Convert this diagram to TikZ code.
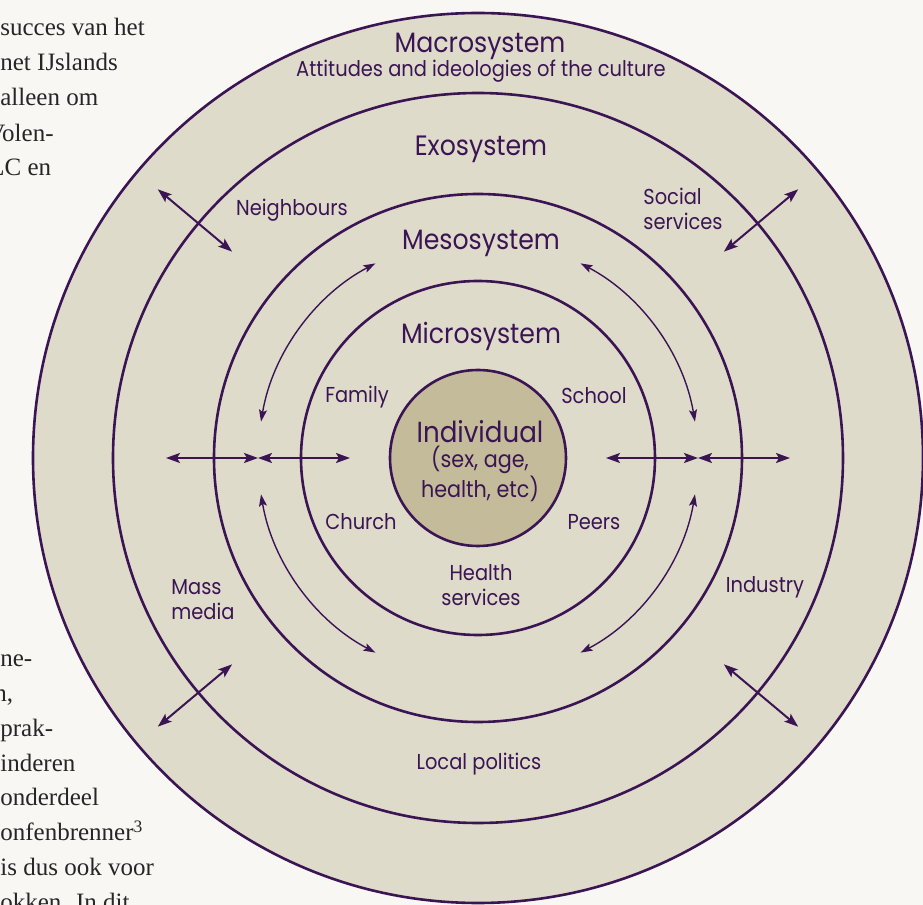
\documentclass[tikz,border=0pt]{standalone}
\usepackage{fontspec}
\usepackage{tikz}
\usetikzlibrary{arrows.meta}
\setmainfont{Poppins}[FakeStretch=0.9]
\newfontfamily\pagefont{Liberation Serif}
\definecolor{ink}{HTML}{3B1553}
\definecolor{sand}{HTML}{DFDBCB}
\definecolor{core}{HTML}{C3BB99}
\definecolor{paper}{HTML}{F8F7F4}

\tikzset{
	ring/.style={circle, draw=ink, fill=sand, line width=1.3pt, inner sep=0pt, outer sep=0pt},
	link/.style={draw=ink, line width=1pt, {Stealth[length=7pt,width=5pt,inset=1.5pt]}-{Stealth[length=7pt,width=5pt,inset=1.5pt]}},
	mesolink/.style={draw=ink, line width=0.7pt, {Stealth[length=6pt,width=4pt,inset=1.2pt]}-{Stealth[length=6pt,width=4pt,inset=1.2pt]}},
	sysname/.style={text=ink, inner sep=0pt, font=\fontsize{14}{15}\selectfont},
	itemname/.style={text=ink, inner sep=0pt, align=center, font=\fontsize{10.8}{12.5}\selectfont},
	pagetext/.style={text=black!85, anchor=base west, inner sep=0pt, font=\pagefont\fontsize{12.5}{15}\selectfont}
}

\begin{document}
\begin{tikzpicture}[x=0.5pt, y=0.5pt]
	% page and its size
	\clip (-478,458) rectangle (445,-447);
	\fill[paper] (-478,458) rectangle (445,-447);
	
	% running text of the page, cut by the picture
	\foreach \xx/\yy/\txt in {-478/422/succes van het, -478/387/net IJslands, -478/352/alleen om,
		-491/316/Volen-, -489/282/LC en,
		-478/-209/ne-, -484/-244/{n,}, -478/-279/prak-, -478/-314/inderen, -478/-348/onderdeel,
		-478/-383/onfenbrenner\textsuperscript{3}, -478/-418/is dus ook voor, -478/-453/okken. In dit} {
		\node[pagetext] at (\xx,\yy) {\txt};
	}
	
	% the five systems
	\node[ring, minimum size=445pt] (macro) at (0,0) {};
	\node[ring, minimum size=365pt] (exo) at (0,0) {};
	\node[ring, minimum size=264pt] (meso) at (0,0) {};
	\node[ring, minimum size=177pt] (micro) at (0,0) {};
	\node[ring, fill=core, minimum size=88pt] (indiv) at (0,0) {};
	
	% links across the exosystem
	\foreach \a in {40,140,220,320} {
		\coordinate (in\a) at (\a:321);
		\coordinate (out\a) at (\a:418);
		\draw[link] (in\a) -- (out\a);
	}
	
	% links in the mesosystem
	\foreach \a/\b in {170.5/117.8, 9.5/62.2, 189.5/242.2, 350.5/297.8} {
		\draw[mesolink] (\a:220) arc[start angle=\a, end angle=\b, radius=220];
	}
	
	% horizontal links
	\foreach \side in {-1,1} {
		\coordinate (h1\side) at (\side*128,0);
		\coordinate (h2\side) at (\side*220,0);
		\coordinate (h3\side) at (\side*312,0);
		\draw[link] (h1\side) -- (h2\side);
		\draw[link] (h2\side) -- (h3\side);
	}
	
	% names of the systems
	\node[sysname] (macroname) at (2,412) {Macrosystem};
	\node[itemname] (culture) at (3,387) {Attitudes and ideologies of the culture};
	\node[sysname] (exoname) at (3,309) {Exosystem};
	\node[sysname] (mesoname) at (3,215) {Mesosystem};
	\node[sysname] (microname) at (3,122) {Microsystem};
	\node[sysname, font=\fontsize{14.5}{16}\selectfont] (indivname) at (2,26) {Individual};
	\node[itemname, font=\fontsize{11.5}{12}\selectfont] (indivtext) at (2,-16) {(sex, age,\\health, etc)};
	
	% what is in them
	\node[itemname] (neighbours) at (-186,248) {Neighbours};
	\node[itemname, align=left, anchor=west] (social) at (165,249) {Social\\services};
	\node[itemname] (family) at (-121,61) {Family};
	\node[itemname] (school) at (116,62) {School};
	\node[itemname] (church) at (-117,-64) {Church};
	\node[itemname] (peers) at (116,-64) {Peers};
	\node[itemname] (health) at (3,-127) {Health\\services};
	\node[itemname, align=left, anchor=west] (media) at (-307,-142) {Mass\\media};
	\node[itemname] (industry) at (287,-129) {Industry};
	\node[itemname] (politics) at (1,-306) {Local politics};
\end{tikzpicture}
\end{document}
